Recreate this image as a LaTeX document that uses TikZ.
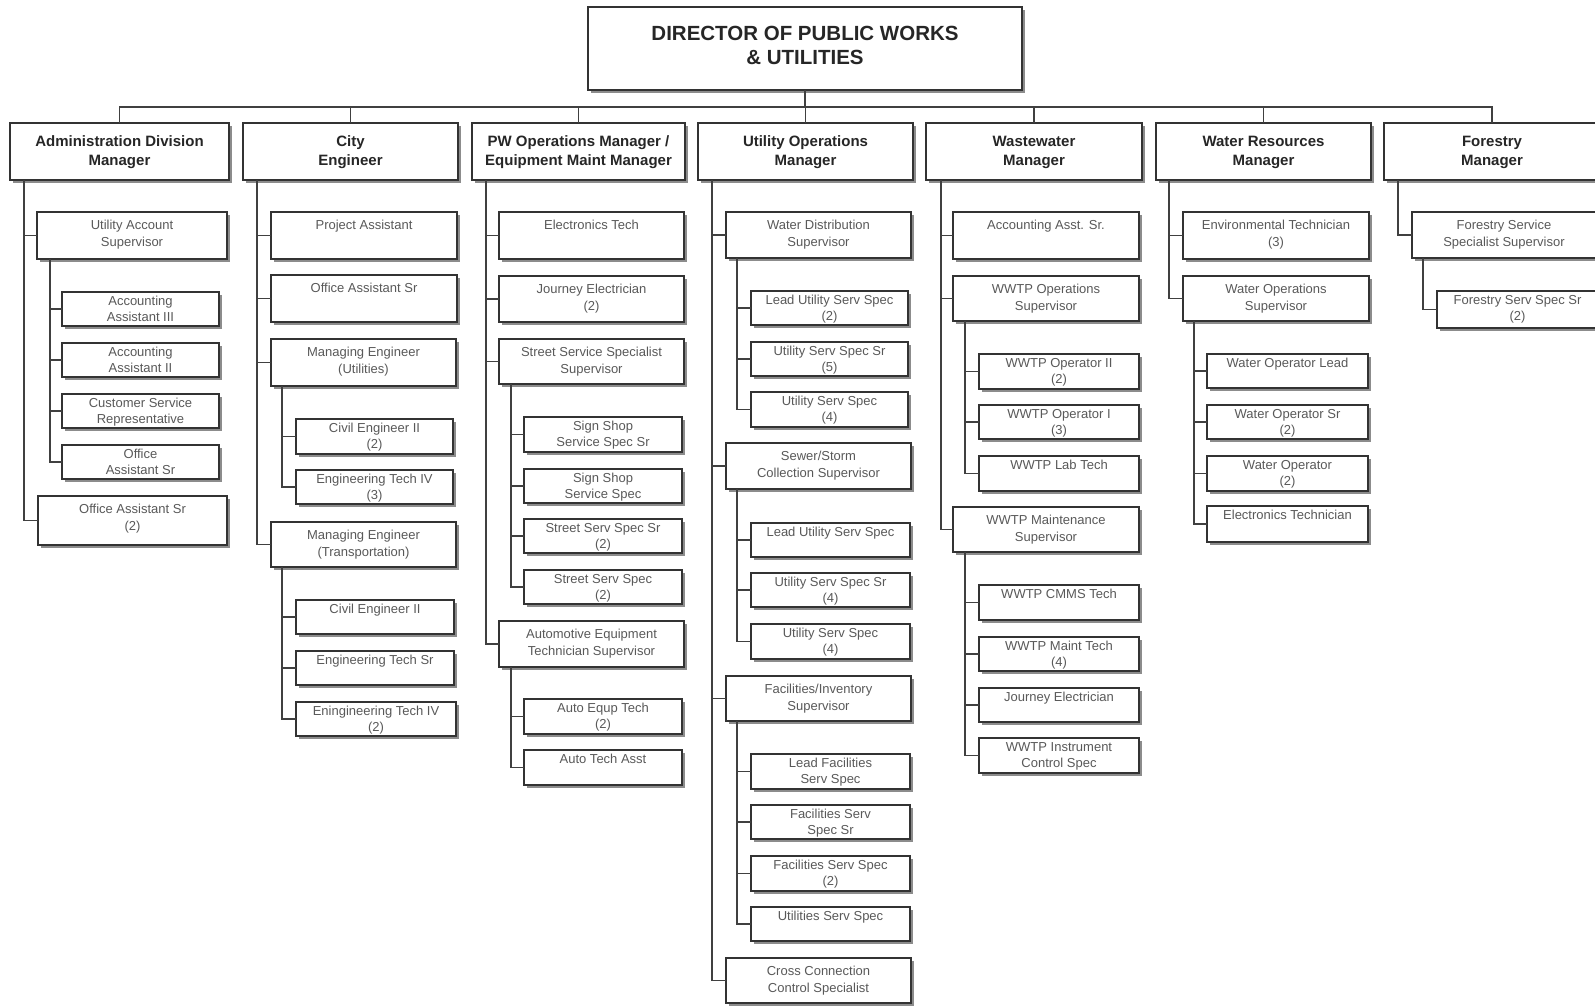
\documentclass[tikz,border=0pt]{standalone}
\usepackage{fontspec}
\setmainfont{Liberation Sans}
\usetikzlibrary{shadows}
\tikzset{
  boxbase/.style={draw=black!80, line width=1.3pt, fill=white, inner sep=0pt, outer sep=0pt,
    drop shadow={shadow xshift=2.5pt, shadow yshift=-2.5pt, fill=black!45, opacity=1}},
  dirbox/.style={boxbase},
  mgrbox/.style={boxbase},
  cbig/.style={boxbase},
  csml/.style={boxbase},
  txtbase/.style={align=center, inner sep=0pt, outer sep=0pt, anchor=north},
  dirboxtext/.style={txtbase, font=\fontsize{20.5}{23.5}\selectfont\bfseries, text=black!85, yshift=-17.5pt},
  mgrboxtext/.style={txtbase, font=\fontsize{15}{19}\selectfont\bfseries, text=black!85, yshift=-10.2pt},
  cbigtext/.style={txtbase, font=\fontsize{13}{16.8}\selectfont, text=black!65, yshift=-6.2pt},
  csmltext/.style={txtbase, font=\fontsize{13}{16.8}\selectfont, text=black!65, yshift=-1.3pt},
  conn/.style={draw=black!75, line width=1.4pt},
}
% #1 name, #2 style, #3 x1, #4 y1, #5 x2, #6 y2, #7 text
\newcommand{\orgbox}[7]{%
  \node[#2, anchor=north west, minimum width={#5pt-#3pt}, minimum height={#6pt-#4pt}] (#1) at (#3,#4) {};
  \node[#2text] (#1t) at (#1.north) {\strut #7};
}
% #1 parent, #2 x offset, #3 children
\newcommand{\orgkids}[3]{%
  \foreach \k in {#3}{\draw[conn] ([xshift=#2pt]#1.south west) |- (\k.west);}
}
\begin{document}
\begin{tikzpicture}[x=1pt, y=-1pt]
\useasboundingbox (0,0) rectangle (1595,1007);
\fill[white] (0,0) rectangle (1595,1007);

% director and managers
\orgbox{dir}{dirbox}{588}{7}{1022}{90}{DIRECTOR OF PUBLIC WORKS\\\& UTILITIES}
\orgbox{adm}{mgrbox}{10}{123}{229}{180}{Administration Division\\Manager}
\orgbox{ce}{mgrbox}{243}{123}{458}{180}{City\\Engineer}
\orgbox{pw}{mgrbox}{472}{123}{685}{180}{PW Operations Manager /\\Equipment Maint Manager}
\orgbox{uo}{mgrbox}{698}{123}{913}{180}{Utility Operations\\Manager}
\orgbox{ww}{mgrbox}{926}{123}{1142}{180}{Wastewater\\Manager}
\orgbox{wr}{mgrbox}{1156}{123}{1371}{180}{Water Resources\\Manager}
\orgbox{fo}{mgrbox}{1384}{123}{1600}{180}{Forestry\\Manager}

\coordinate (busl) at (0,107);
\draw[conn] (dir.south) -- (dir.south |- busl);
\draw[conn] (adm.north) |- (fo.north |- busl) -- (fo.north);
\foreach \m in {ce,pw,uo,ww,wr}{\draw[conn] (\m.north) -- (\m.north |- busl);}

% Administration
\orgbox{ua}{cbig}{37}{212}{227}{259}{Utility Account\\Supervisor}
\orgbox{aa3}{csml}{62}{292}{219}{326}{Accounting\\Assistant III}
\orgbox{aa2}{csml}{62}{343}{219}{377}{Accounting\\Assistant II}
\orgbox{csr}{csml}{62}{394}{219}{428}{Customer Service\\Representative}
\orgbox{oas}{csml}{62}{445}{219}{479}{Office\\Assistant Sr}
\orgbox{oas2}{cbig}{38}{496}{227}{545}{Office Assistant Sr\\(2)}
\orgkids{adm}{14}{ua,oas2}
\orgkids{ua}{13}{aa3,aa2,csr,oas}

% City Engineer
\orgbox{pa}{cbig}{271}{212}{457}{259}{Project Assistant}
\orgbox{oasr}{cbig}{271}{275}{457}{322}{Office Assistant Sr}
\orgbox{meu}{cbig}{271}{339}{456}{386}{Managing Engineer\\(Utilities)}
\orgbox{cea}{csml}{296}{419}{453}{454}{Civil Engineer II\\(2)}
\orgbox{eta}{csml}{296}{470}{453}{504}{Engineering Tech IV\\(3)}
\orgbox{met}{cbig}{271}{522}{456}{567}{Managing Engineer\\(Transportation)}
\orgbox{ceb}{csml}{296}{600}{454}{634}{Civil Engineer II}
\orgbox{etsr}{csml}{296}{651}{454}{685}{Engineering Tech Sr}
\orgbox{etb}{csml}{296}{702}{456}{736}{Eningineering Tech IV\\(2)}
\orgkids{ce}{14}{pa,oasr,meu,met}
\orgkids{meu}{11}{cea,eta}
\orgkids{met}{11}{ceb,etsr,etb}

% PW Operations
\orgbox{et}{cbig}{499}{212}{684}{259}{Electronics Tech}
\orgbox{je}{cbig}{499}{276}{684}{322}{Journey Electrician\\(2)}
\orgbox{sss}{cbig}{499}{339}{684}{384}{Street Service Specialist\\Supervisor}
\orgbox{ssa}{csml}{524}{417}{682}{452}{Sign Shop\\Service Spec Sr}
\orgbox{ssb}{csml}{524}{469}{682}{503}{Sign Shop\\Service Spec}
\orgbox{ssr}{csml}{524}{519}{682}{553}{Street Serv Spec Sr\\(2)}
\orgbox{ssp}{csml}{524}{570}{682}{604}{Street Serv Spec\\(2)}
\orgbox{aets}{cbig}{499}{621}{684}{667}{Automotive Equipment\\Technician Supervisor}
\orgbox{aet}{csml}{524}{699}{682}{734}{Auto Equp Tech\\(2)}
\orgbox{ata}{csml}{524}{750}{682}{785}{Auto Tech Asst}
\orgkids{pw}{14}{et,je,sss,aets}
\orgkids{sss}{12}{ssa,ssb,ssr,ssp}
\orgkids{aets}{12}{aet,ata}

% Utility Operations
\orgbox{wds}{cbig}{726}{212}{911}{258}{Water Distribution\\Supervisor}
\orgbox{lus}{csml}{751}{291}{908}{325}{Lead Utility Serv Spec\\(2)}
\orgbox{ussr}{csml}{751}{342}{908}{376}{Utility Serv Spec Sr\\(5)}
\orgbox{uss}{csml}{751}{392}{908}{427}{Utility Serv Spec\\(4)}
\orgbox{ssc}{cbig}{726}{443}{911}{489}{Sewer/Storm\\Collection Supervisor}
\orgbox{lusb}{csml}{751}{523}{910}{557}{Lead Utility Serv Spec}
\orgbox{ussrb}{csml}{751}{573}{910}{607}{Utility Serv Spec Sr\\(4)}
\orgbox{ussb}{csml}{751}{624}{910}{659}{Utility Serv Spec\\(4)}
\orgbox{fis}{cbig}{726}{676}{911}{721}{Facilities/Inventory\\Supervisor}
\orgbox{lfs}{csml}{751}{754}{910}{789}{Lead Facilities\\Serv Spec}
\orgbox{fssr}{csml}{751}{805}{910}{839}{Facilities Serv\\Spec Sr}
\orgbox{fsp}{csml}{751}{856}{910}{891}{Facilities Serv Spec\\(2)}
\orgbox{uts}{csml}{751}{907}{910}{941}{Utilities Serv Spec}
\orgbox{ccs}{cbig}{726}{958}{911}{1003}{Cross Connection\\Control Specialist}
\orgkids{uo}{14}{wds,ssc,fis,ccs}
\orgkids{wds}{11}{lus,ussr,uss}
\orgkids{ssc}{11}{lusb,ussrb,ussb}
\orgkids{fis}{11}{lfs,fssr,fsp,uts}

% Wastewater
\orgbox{aas}{cbig}{953}{212}{1139}{259}{Accounting Asst. Sr.}
\orgbox{wos}{cbig}{953}{276}{1139}{321}{WWTP Operations\\Supervisor}
\orgbox{woa}{csml}{979}{354}{1139}{389}{WWTP Operator II\\(2)}
\orgbox{wob}{csml}{979}{405}{1139}{439}{WWTP Operator I\\(3)}
\orgbox{wlt}{csml}{979}{456}{1139}{491}{WWTP Lab Tech}
\orgbox{wms}{cbig}{953}{507}{1139}{552}{WWTP Maintenance\\Supervisor}
\orgbox{wct}{csml}{979}{585}{1139}{620}{WWTP CMMS Tech}
\orgbox{wmt}{csml}{979}{637}{1139}{671}{WWTP Maint Tech\\(4)}
\orgbox{wje}{csml}{979}{688}{1139}{722}{Journey Electrician}
\orgbox{wic}{csml}{979}{738}{1139}{773}{WWTP Instrument\\Control Spec}
\orgkids{ww}{15}{aas,wos,wms}
\orgkids{wos}{12}{woa,wob,wlt}
\orgkids{wms}{12}{wct,wmt,wje,wic}

% Water Resources
\orgbox{env}{cbig}{1183}{212}{1369}{259}{Environmental Technician\\(3)}
\orgbox{wops}{cbig}{1183}{276}{1369}{321}{Water Operations\\Supervisor}
\orgbox{wol}{csml}{1207}{354}{1368}{388}{Water Operator Lead}
\orgbox{wosr}{csml}{1207}{405}{1368}{439}{Water Operator Sr\\(2)}
\orgbox{wop}{csml}{1207}{456}{1368}{491}{Water Operator\\(2)}
\orgbox{elt}{csml}{1207}{506}{1368}{542}{Electronics Technician}
\orgkids{wr}{13}{env,wops}
\orgkids{wops}{11}{wol,wosr,wop,elt}

% Forestry
\orgbox{fss}{cbig}{1412}{212}{1596}{258}{Forestry Service\\Specialist Supervisor}
\orgbox{fsr}{csml}{1437}{291}{1598}{328}{Forestry Serv Spec Sr\\(2)}
\orgkids{fo}{14}{fss}
\orgkids{fss}{11}{fsr}
\end{tikzpicture}
\end{document}
